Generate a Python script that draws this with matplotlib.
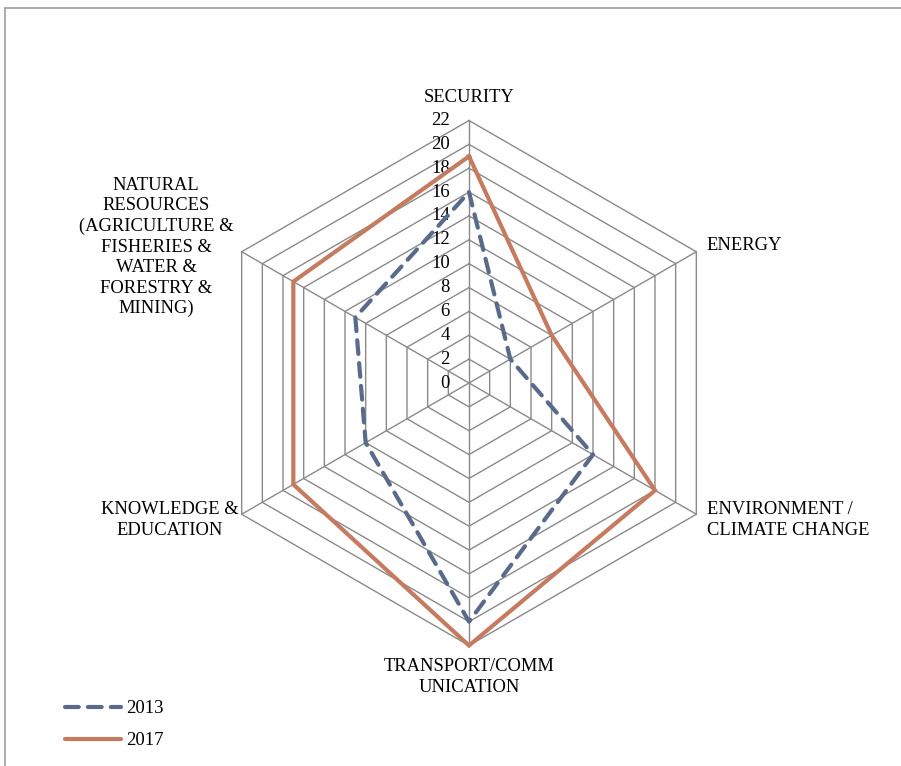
import numpy as np
import matplotlib
matplotlib.use("Agg")
import matplotlib.pyplot as plt
from matplotlib.lines import Line2D

plt.rcParams['font.family'] = ['Liberation Serif', 'DejaVu Serif']

categories = [
    "SECURITY",
    "ENERGY",
    "ENVIRONMENT /\nCLIMATE CHANGE",
    "TRANSPORT/COMM\nUNICATION",
    "KNOWLEDGE &\nEDUCATION",
    "NATURAL\nRESOURCES\n(AGRICULTURE &\nFISHERIES &\nWATER &\nFORESTRY &\nMINING)",
]
values_2013 = [16, 4, 12, 20, 10, 11]
values_2017 = [19, 8, 18, 22, 17, 17]
ticks = list(range(0, 23, 2))

W, H = 901, 766
CX, CY = 469, 383          # centre of the web in pixels
SCALE = 262.5 / 22         # pixels per unit

fig = plt.figure(figsize=(W / 100, H / 100), dpi=100)
ax = fig.add_axes([0, 0, 1, 1])
ax.set_xlim(-CX / SCALE, (W - CX) / SCALE)
ax.set_ylim(-(H - CY) / SCALE, CY / SCALE)
ax.axis("off")


def px(x, y):
    # pixel position -> data position
    return (x - CX) / SCALE, (CY - y) / SCALE


n = len(categories)
angles = np.arange(n) * 2 * np.pi / n


def xy(vals):
    vals = np.asarray(vals, dtype=float)
    x = vals * np.sin(angles)
    y = vals * np.cos(angles)
    return np.append(x, x[0]), np.append(y, y[0])


grid_col = "#8a8a8a"
for t in ticks[1:]:
    gx, gy = xy([t] * n)
    ax.plot(gx, gy, color=grid_col, lw=1.0, zorder=1)
for a in angles:
    ax.plot([0, ticks[-1] * np.sin(a)], [0, ticks[-1] * np.cos(a)],
            color=grid_col, lw=1.0, zorder=1)

# tick labels along the vertical axis
for t in ticks:
    ax.text(-1.6, t, str(t), ha="right", va="center", fontsize=13.5, zorder=2)

c13 = "#5a6a8b"
c17 = "#c57b5f"
dash = (0, (3.3, 2.2))
x13, y13 = xy(values_2013)
x17, y17 = xy(values_2017)
ax.plot(x17, y17, color=c17, lw=3.0, solid_joinstyle="miter", zorder=3)
ax.plot(x13, y13, color=c13, lw=3.0, linestyle=dash,
        dash_capstyle="round", zorder=4)

# category labels
label_pos = [
    ((469, 98), "center", "center"),
    ((706, 246), "left", "center"),
    ((707, 520), "left", "center"),
    ((469, 677), "center", "center"),
    ((170, 520), "center", "center"),
    ((156, 247), "center", "center"),
]
for lab, ((lx, ly), ha, va) in zip(categories, label_pos):
    dx, dy = px(lx, ly)
    ax.text(dx, dy, lab, ha=ha, va=va, fontsize=13.3, linespacing=1.27,
            multialignment="center" if ha == "center" else "left")

# legend
handles = [
    Line2D([], [], color=c13, lw=3.0, linestyle=dash, dash_capstyle="round"),
    Line2D([], [], color=c17, lw=3.0, solid_capstyle="round"),
]
leg = fig.legend(handles, ["2013", "2017"], loc="upper left",
                 bbox_to_anchor=(65 / W, 1 - 700 / H), frameon=False,
                 fontsize=13.5, handlelength=3.0, handletextpad=0.25,
                 labelspacing=0.8, borderpad=0, borderaxespad=0)

# outer chart border (partly cropped)
fig.add_artist(Line2D([5 / W, 1], [1 - 8 / H, 1 - 8 / H], color="#a0a0a0", lw=1.2))
fig.add_artist(Line2D([5 / W, 5 / W], [0, 1 - 8 / H], color="#a0a0a0", lw=1.2))

fig.savefig("out.png", dpi=100)
